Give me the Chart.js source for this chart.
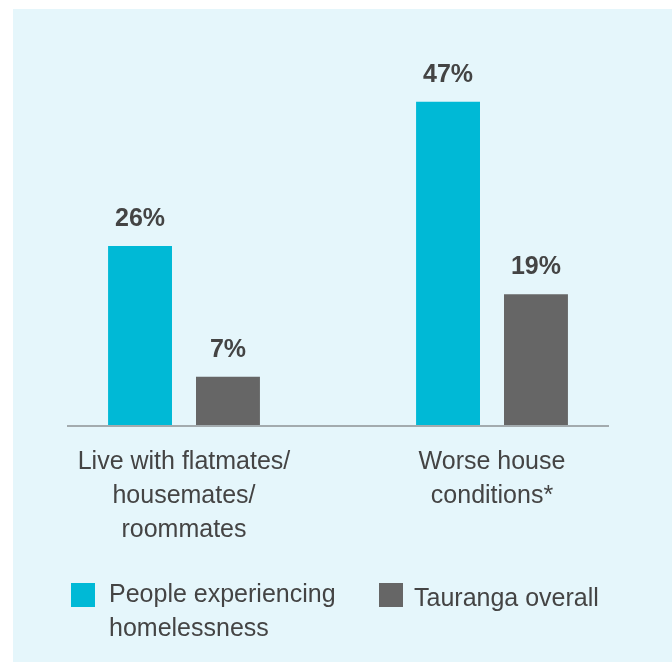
<!DOCTYPE html>
<html>
<head>
<meta charset="utf-8">
<script src="https://cdn.jsdelivr.net/npm/chart.js@4.4.1/dist/chart.umd.min.js"></script>
<style>
  html, body { margin: 0; padding: 0; background: #ffffff; }
  body { width: 672px; height: 662px; position: relative; overflow: hidden;
         font-family: "Liberation Sans", Arial, Helvetica, sans-serif; color: #444444; }
  .panel { position: absolute; left: 13px; top: 9px; right: 0; bottom: 0; background: #e5f6fb; }
  .chartBox { position: absolute; left: 0; top: 0; width: 672px; height: 587px; }
  .legend-box { position: absolute; width: 24px; height: 24px; }
  .legend-text { position: absolute; font-size: 25px; line-height: 34px; color: #444444; }
</style>
</head>
<body>
<div class="panel"></div>
<div class="chartBox"><canvas id="chart"></canvas></div>
<div id="legend"></div>
<script>
// categories and series
const categories = [
  ['Live with flatmates/', 'housemates/', 'roommates'],
  ['Worse house', 'conditions*']
];
const seriesNames = ['People experiencing homelessness', 'Tauranga overall'];
const homelessness = [26, 47];
const taurangaOverall = [7, 19];
const seriesColors = ['#00b9d6', '#666666'];

// value labels above each bar
const valueLabels = {
  id: 'valueLabels',
  afterDatasetsDraw(chart) {
    const ctx = chart.ctx;
    ctx.save();
    ctx.font = 'bold 25px "Liberation Sans", Arial, sans-serif';
    ctx.fillStyle = '#444444';
    ctx.textAlign = 'center';
    ctx.textBaseline = 'alphabetic';
    chart.data.datasets.forEach((ds, i) => {
      chart.getDatasetMeta(i).data.forEach((bar, j) => {
        ctx.fillText(ds.data[j] + '%', bar.x, bar.y - 20);
      });
    });
    ctx.restore();
  }
};

// short baseline under the bars
const baseLine = {
  id: 'baseLine',
  afterDatasetsDraw(chart) {
    const ctx = chart.ctx;
    const y = chart.scales.y.getPixelForValue(0);
    const area = chart.chartArea;
    ctx.save();
    ctx.strokeStyle = '#a3abae';
    ctx.lineWidth = 2;
    ctx.beginPath();
    ctx.moveTo(area.left + 37, y + 1);
    ctx.lineTo(area.right - 37, y + 1);
    ctx.stroke();
    ctx.restore();
  }
};

const ctx = document.getElementById('chart').getContext('2d');
const chart = new Chart(ctx, {
  type: 'bar',
  data: {
    labels: categories,
    datasets: [
      { label: seriesNames[0], data: homelessness, backgroundColor: seriesColors[0] },
      { label: seriesNames[1], data: taurangaOverall, backgroundColor: seriesColors[1] }
    ]
  },
  options: {
    responsive: true,
    maintainAspectRatio: false,
    animation: false,
    categoryPercentage: 0.571,
    barPercentage: 0.727,
    layout: { padding: { left: 30, right: 26, top: 81, bottom: 20 } },
    scales: {
      x: {
        grid: { display: false, drawTicks: false },
        border: { display: false },
        ticks: {
          color: '#444444',
          padding: 20,
          maxRotation: 0,
          font: { family: '"Liberation Sans", Arial, sans-serif', size: 25, lineHeight: 1.36 }
        }
      },
      y: {
        display: false,
        min: 0,
        max: 50
      }
    },
    plugins: {
      legend: { display: false },
      tooltip: { enabled: false }
    }
  },
  plugins: [valueLabels, baseLine]
});

// html legend built from the chart's legend items
const legendPos = [
  { box: [71, 583], text: [109, 576], width: 250 },
  { box: [379, 583], text: [414, 580], width: 240 }
];
const legendEl = document.getElementById('legend');
chart.options.plugins.legend.labels.generateLabels(chart).forEach((item, i) => {
  const p = legendPos[i];
  const box = document.createElement('div');
  box.className = 'legend-box';
  box.style.left = p.box[0] + 'px';
  box.style.top = p.box[1] + 'px';
  box.style.background = item.fillStyle;
  const txt = document.createElement('div');
  txt.className = 'legend-text';
  txt.style.left = p.text[0] + 'px';
  txt.style.top = p.text[1] + 'px';
  txt.style.width = p.width + 'px';
  txt.textContent = item.text;
  legendEl.appendChild(box);
  legendEl.appendChild(txt);
});
</script>
</body>
</html>
